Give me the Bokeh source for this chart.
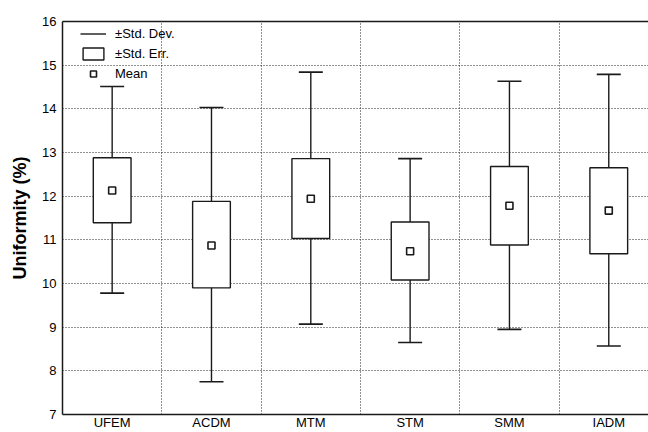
from bokeh.plotting import figure
from bokeh.models import (ColumnDataSource, Range1d, FixedTicker, LinearAxis,
                          Legend, LegendItem)
from bokeh.embed import file_html
from bokeh.resources import INLINE

# ---- data ----
categories = ["UFEM", "ACDM", "MTM", "STM", "SMM", "IADM"]
mean_vals = [12.13, 10.87, 11.94, 10.74, 11.78, 11.67]
se_low = [11.39, 9.90, 11.03, 10.08, 10.88, 10.68]
se_high = [12.88, 11.88, 12.86, 11.41, 12.68, 12.65]
sd_low = [9.78, 7.75, 9.07, 8.65, 8.95, 8.57]
sd_high = [14.51, 14.03, 14.84, 12.86, 14.63, 14.79]
y_ticks = [7, 8, 9, 10, 11, 12, 13, 14, 15, 16]

xs = list(range(len(categories)))
src = ColumnDataSource(dict(x=xs, mean=mean_vals, se_lo=se_low, se_hi=se_high,
                            sd_lo=sd_low, sd_hi=sd_high))

FONT = "Liberation Sans"
INK = "#1a1a1a"

p = figure(width=648, height=432, output_backend="svg", toolbar_location=None,
           x_range=Range1d(-0.5, 5.4), y_range=Range1d(7, 16),
           min_border_left=62, min_border_right=0, min_border_top=21,
           min_border_bottom=18)
p.outline_line_color = None
p.background_fill_color = "white"
p.border_fill_color = "white"

# axes
p.xaxis.ticker = FixedTicker(ticks=xs)
p.xaxis.major_label_overrides = {i: c for i, c in zip(xs, categories)}
p.xaxis.major_tick_out = 0
p.xaxis.major_tick_in = 0
p.xaxis.minor_tick_out = 0
p.xaxis.minor_tick_in = 0
p.xaxis.major_tick_line_color = None
p.xaxis.minor_tick_line_color = None
p.xaxis.major_label_standoff = 0
p.xaxis.major_label_text_font = FONT
p.xaxis.major_label_text_font_size = "13px"
p.xaxis.major_label_text_color = "black"
p.xaxis.axis_line_color = INK
p.xaxis.axis_line_width = 1.5

p.yaxis.ticker = FixedTicker(ticks=y_ticks)
p.yaxis.major_tick_out = 0
p.yaxis.major_tick_in = 0
p.yaxis.minor_tick_out = 0
p.yaxis.minor_tick_in = 0
p.yaxis.major_tick_line_color = None
p.yaxis.minor_tick_line_color = None
p.yaxis.major_label_standoff = 6
p.yaxis.major_label_text_font = FONT
p.yaxis.major_label_text_font_size = "13px"
p.yaxis.major_label_text_color = "black"
p.yaxis.axis_line_color = INK
p.yaxis.axis_line_width = 1.5
p.yaxis.axis_label = "Uniformity (%)"
p.yaxis.axis_label_text_font = FONT
p.yaxis.axis_label_text_font_size = "18px"
p.yaxis.axis_label_text_font_style = "bold"
p.yaxis.axis_label_text_color = "black"
p.yaxis.axis_label_standoff = 9

top_axis = LinearAxis(major_tick_line_color=None, minor_tick_line_color=None,
                      major_tick_out=0, minor_tick_out=0,
                      major_label_text_font_size="0px", axis_line_color=INK,
                      axis_line_width=1.5, ticker=FixedTicker(ticks=[]))
p.add_layout(top_axis, "above")

# grids
p.xgrid.ticker = FixedTicker(ticks=[i + 0.5 for i in xs[:-1]])
p.ygrid.ticker = FixedTicker(ticks=y_ticks[1:-1])
for g in (p.xgrid, p.ygrid):
    g.grid_line_color = "#222222"
    g.grid_line_dash = "1 2"
    g.grid_line_width = 1

# whiskers (±Std. Dev.)
stems = p.segment(x0="x", y0="sd_lo", x1="x", y1="sd_hi", source=src,
                  line_color=INK, line_width=1.4)
caps_hi = p.scatter(x="x", y="sd_hi", source=src, marker="dash", size=24,
                    line_color=INK, line_width=1.6)
caps_lo = p.scatter(x="x", y="sd_lo", source=src, marker="dash", size=24,
                    line_color=INK, line_width=1.6)

# boxes (±Std. Err.)
boxes = p.vbar(x="x", width=0.38, bottom="se_lo", top="se_hi", source=src,
               fill_color="white", line_color=INK, line_width=1.4)

# means
means = p.scatter(x="x", y="mean", source=src, marker="square", size=7,
                  fill_color="white", line_color=INK, line_width=1.6)

legend = Legend(items=[
    LegendItem(label="±Std. Dev.", renderers=[stems]),
    LegendItem(label="±Std. Err.", renderers=[boxes]),
    LegendItem(label="Mean", renderers=[means]),
])
legend.location = (18, 333)
legend.padding = 0
legend.margin = 0
legend.spacing = 5
legend.glyph_width = 26
legend.glyph_height = 15
legend.label_height = 15
legend.label_standoff = 9
legend.label_text_font = FONT
legend.label_text_font_size = "13px"
legend.label_text_color = "black"
legend.background_fill_alpha = 0
legend.border_line_color = None
p.add_layout(legend, "center")

open("out.html", "w").write(file_html(p, INLINE))
